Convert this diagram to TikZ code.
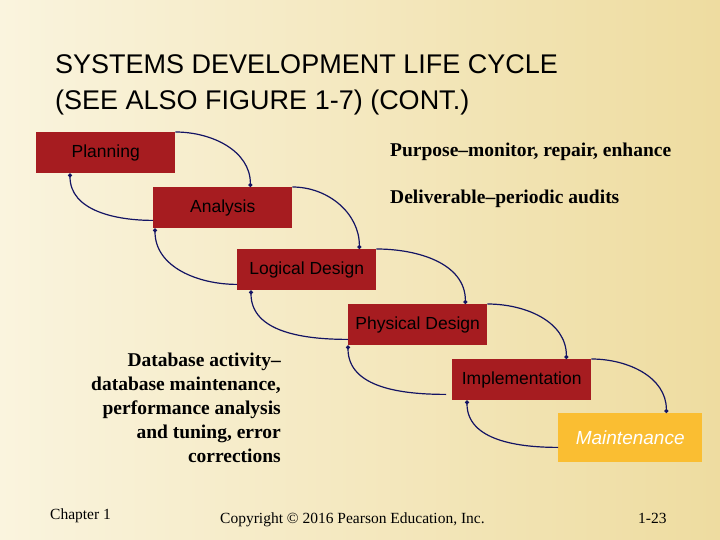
\documentclass[tikz,border=0pt]{standalone}
\usepackage{fontspec}
\setmainfont{Liberation Serif}
\setsansfont{Liberation Sans}
\usetikzlibrary{arrows.meta}
\definecolor{boxred}{RGB}{166,28,32}
\definecolor{gold}{RGB}{250,190,50}
\definecolor{navy}{RGB}{20,20,100}
\definecolor{creamA}{RGB}{250,244,222}
\definecolor{creamB}{RGB}{238,220,160}
\tikzset{
  phase/.style={fill=boxred, minimum width=139pt, minimum height=41pt,
    inner sep=0pt, font=\sffamily\fontsize{17.5}{20}\selectfont},
  flow/.style={navy, line width=1.2pt, -{Circle[length=4pt]}},
  note/.style={font=\bfseries\fontsize{19.5}{22}\selectfont},
  foot/.style={font=\fontsize{15.5}{18}\selectfont}
}
\begin{document}
\begin{tikzpicture}[x=1pt, y=-1pt]
  \shade[left color=creamA, right color=creamB] (0,0) rectangle (720,540);
  \node[anchor=base west, inner sep=0pt, font=\sffamily\fontsize{27}{30}\selectfont] (title1) at (55,74)
    {SYSTEMS DEVELOPMENT LIFE CYCLE};
  \node[anchor=base west, inner sep=0pt, font=\sffamily\fontsize{27}{30}\selectfont] (title2) at (55,110)
    {(SEE ALSO FIGURE 1-7) (CONT.)};

  \node[phase, anchor=north west] (plan) at (36,132) {Planning};
  \node[phase, anchor=north west] (anal) at (153,187) {Analysis};
  \node[phase, anchor=north west] (logi) at (237,249) {Logical Design};
  \node[phase, anchor=north west] (phys) at (348,304) {Physical Design};
  \node[phase, anchor=north west] (impl) at (452,359) {Implementation};
  \node[phase, anchor=north west, fill=gold, minimum width=144pt, minimum height=49pt,
    text=white, font=\sffamily\itshape\fontsize{19}{22}\selectfont] (main) at (558,413) {Maintenance};

  % forward
  \draw[flow] (plan.north east) to[out=0, in=90] ([xshift=-42pt]anal.north east);
  \draw[flow] (anal.north east) to[out=0, in=90] ([xshift=-17pt]logi.north east);
  \draw[flow] (logi.north east) to[out=0, in=90] ([xshift=-22pt]phys.north east);
  \draw[flow] (phys.north east) to[out=0, in=90] ([xshift=-25pt]impl.north east);
  \draw[flow] (impl.north east) to[out=0, in=90] ([xshift=-36pt]main.north east);
  % backward
  \draw[flow] ([yshift=8pt]anal.south west) to[out=180, in=-90] ([xshift=34pt]plan.south west);
  \draw[flow] ([yshift=6pt]logi.south west) to[out=180, in=-90] ([xshift=2pt]anal.south west);
  \draw[flow] ([yshift=6pt]phys.south west) to[out=180, in=-90] ([xshift=14pt]logi.south west);
  \draw[flow] ([xshift=-6pt,yshift=6pt]impl.south west) to[out=180, in=-90] (phys.south west);
  \draw[flow] ([yshift=15pt]main.south west) to[out=180, in=-90] ([xshift=15pt]impl.south west);

  \node[note, anchor=base west, inner sep=0pt] (purp) at (390,157) {Purpose–monitor, repair, enhance};
  \node[note, anchor=base west, inner sep=0pt] (deli) at (390,204) {Deliverable–periodic audits};
  \node[note, anchor=north east, align=right, inner sep=0pt, font=\bfseries\fontsize{19.5}{24}\selectfont] (dbact) at (281,353)
    {Database activity–\\database maintenance,\\performance analysis\\and tuning, error\\corrections};

  \node[foot, anchor=base west, inner sep=0pt] (chap) at (50,519) {Chapter 1};
  \node[foot, anchor=base west, inner sep=0pt] (copy) at (220,523) {Copyright © 2016 Pearson Education, Inc.};
  \node[foot, anchor=base west, inner sep=0pt] (page) at (638,523) {1-23};
\end{tikzpicture}
\end{document}
